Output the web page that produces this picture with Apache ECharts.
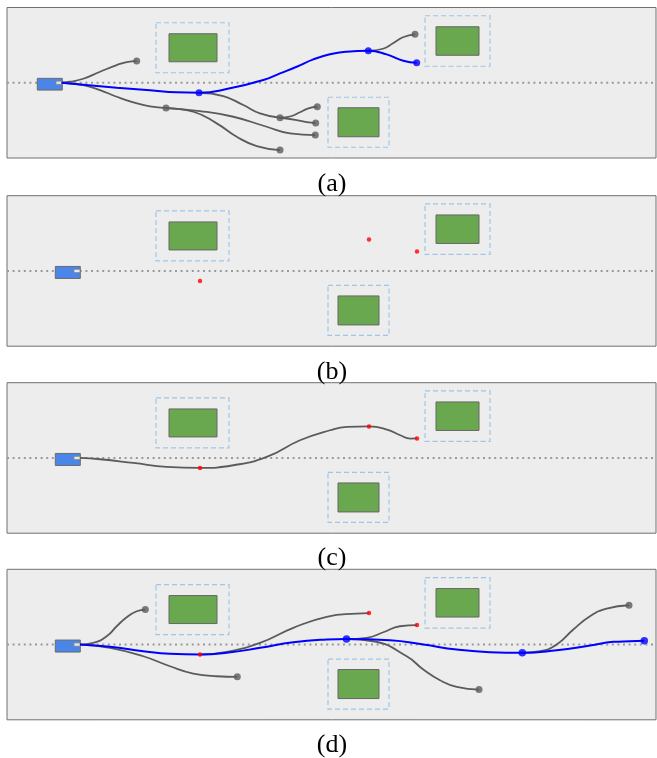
<!DOCTYPE html>
<html>
<head>
<meta charset="utf-8">
<script src="https://cdn.jsdelivr.net/npm/echarts@6/dist/echarts.min.js"></script>
<style>html,body{margin:0;padding:0;background:#fff;}#c{width:657px;height:758px;}</style>
</head>
<body>
<div id="c"></div>
<script>
// ---- data (x along road, y lateral; centre line at y=0) ----
const panelLabels = ['(a)', '(b)', '(c)', '(d)'];
const laneLine = [[0, 0], [649, 0]];
const obstacleZones = [[149, 10, 222, 60], [418, 16.5, 483, 67], [321, -64.5, 382, -14.5]];
const obstacleCars = [[162, 21, 210, 49], [429, 27.5, 472, 56], [331, -54, 372, -25]];
const egoA = [30.3, -7.3, 55.3, 4.4];
const egoMarkA = [49, -1.6, 54.7, 1.6];
const egoBCD = [48.3, -7.5, 73.3, 4.5];
const egoMarkBCD = [67, -1.6, 73, 1.6];

// panel (a)
const a_blue = [[54.7,0],[76.3,-2],[109.7,-5],[143,-7.6],[169.7,-9.6],[192,-10],[223,-5.6],[256.3,2.7],[273,9.4],[289.7,16],[306.3,23.4],[323,28.4],[339.7,31],[361.3,32],[379.7,28.4],[396.3,22],[409.7,20]];
const a_gray1 = [[54.7,0],[63,1],[76.3,4],[93,11],[109.7,17.7],[119.7,20.7],[129.7,21.7]];
const a_gray2 = [[54.7,0],[76.3,-2.3],[93,-7.3],[109.7,-14],[126.3,-19.6],[143,-23.6],[159,-25.3]];
const a_gray3 = [[192,-10],[216.3,-13.3],[236.3,-22.3],[253,-30.6],[273,-35]];
const a_gray4 = [[273,-35],[284,-33.5],[293,-29.5],[301.3,-25.6],[310.3,-24]];
const a_gray5 = [[273,-35],[289.7,-37.3],[299.7,-39.3],[308.7,-40.3]];
const a_gray6 = [[159,-25.3],[193,-28.3],[226.3,-34],[259.7,-44],[283,-50.6],[308.3,-52.3]];
const a_gray7 = [[159,-25.3],[186.3,-29],[209.7,-40.6],[229.7,-54],[249.7,-63.3],[273,-67.3]];
const a_gray8 = [[361.3,32],[376,34],[386,39.5],[396,45.5],[408,48.4]];
const a_grayDots = [[129.7,21.7],[159,-25.3],[273,-35],[310.3,-24],[308.7,-40.3],[308.3,-52.3],[273,-67.3],[408,48.4]];
const a_blueDots = [[192,-10],[361.3,32],[409.7,20]];

// panels (b)(c)(d): waypoints
const waypoints = [[193,-10],[362,31.5],[410,19.5]];

// panel (c)
const c_gray = [[73,0],[93,-1.3],[126.3,-5],[159.7,-9],[193,-10],[226.3,-7.3],[259.7,1],[293,17.7],[323,27.7],[340,31],[362,31.5],[380,28.4],[393.3,22.7],[403.3,19.4],[410,19.5]];

// panel (d)
const d_blue = [[73,0],[103,-2.3],[136.3,-6.7],[163,-9.3],[193,-10],[219.7,-8.3],[253,-3.3],[286.3,2.3],[319.7,5],[339.5,5.5],[383,4.3],[416.3,0],[449.7,-5],[483,-7.7],[515.3,-8.3],[549.7,-5.7],[583,-1],[606.3,2.7],[623,3.3],[637.3,3.7]];
const d_gray1 = [[73,0],[86.3,1.7],[99.7,8.3],[109.7,18.3],[119.7,27.3],[129.7,33.3],[138.3,35]];
const d_gray2 = [[73,0],[103,-3.3],[136.3,-11.7],[163,-21.7],[186.3,-29],[209.7,-31.7],[230.3,-32.3]];
const d_gray3 = [[193,-10],[219.7,-7.3],[253,1.7],[286.3,16.7],[319.7,27.7],[349.7,31],[362,31.5]];
const d_gray4 = [[339.5,5.5],[359.7,6.7],[376.3,12.3],[393,18.3],[410,19.5]];
const d_gray5 = [[339.5,5.5],[366.3,3.3],[399.7,-11.7],[416.3,-25],[433,-35.7],[449.7,-42.3],[472,-45]];
const d_gray6 = [[515.3,-8.3],[533,-6.7],[549.7,0],[566.3,15],[583,28.3],[599.7,36],[622,39.3]];
const d_grayDots = [[138.3,35],[230.3,-32.3],[472,-45],[622,39.3]];
const d_blueDots = [[339.5,5.5],[515.3,-8.3],[637.3,3.7]];

// ---- layout / style ----
const panelTops = [7.5, 195.7, 382.7, 569.3];
const panelH = 150.5;
const labelY = [184, 372, 558.5, 745.5];
const GRAY = '#5b5b5b', BLUE = '#0000ff', RED = '#ff0000';

const grids = [], xAxes = [], yAxes = [], series = [];
panelTops.forEach((t, i) => {
  grids.push({left: 7, width: 649, top: t, height: panelH, show: true,
    backgroundColor: '#ededed', borderColor: '#707070', borderWidth: 1});
  xAxes.push({type: 'value', gridIndex: i, min: 0, max: 649, show: false});
  yAxes.push({type: 'value', gridIndex: i, min: -75.25, max: 75.25, show: false});
});

function rectSeries(i, data, style, z) {
  return {type: 'custom', xAxisIndex: i, yAxisIndex: i, z: z, silent: true,
    encode: {x: [0, 2], y: [1, 3]},
    data: data,
    renderItem: function (params, api) {
      const p1 = api.coord([api.value(0), api.value(3)]);
      const p2 = api.coord([api.value(2), api.value(1)]);
      return {type: 'rect', shape: {x: p1[0], y: p1[1], width: p2[0] - p1[0], height: p2[1] - p1[1]},
        style: Object.assign({}, style)};
    }};
}
function lineSeries(i, data, color, width, z) {
  return {type: 'line', xAxisIndex: i, yAxisIndex: i, data: data, smooth: 0.5,
    symbol: 'none', silent: true, z: z, lineStyle: {color: color, width: width}};
}
function dotSeries(i, data, color, size, z) {
  return {type: 'scatter', xAxisIndex: i, yAxisIndex: i, data: data, symbol: 'circle',
    symbolSize: size, silent: true, z: z, itemStyle: {color: color}};
}

for (let i = 0; i < 4; i++) {
  series.push({type: 'line', xAxisIndex: i, yAxisIndex: i, data: laneLine, symbol: 'none', silent: true, z: 1,
    lineStyle: {color: '#9a9a9a', width: 2, type: [2, 3.6]}});
  series.push(rectSeries(i, obstacleZones, {fill: 'none', stroke: '#9fc5e8', lineWidth: 1.2, lineDash: [5, 3]}, 2));
  series.push(rectSeries(i, obstacleCars, {fill: '#6aa84f', stroke: '#666666', lineWidth: 1}, 2));
  const ego = i === 0 ? egoA : egoBCD;
  const mark = i === 0 ? egoMarkA : egoMarkBCD;
  series.push(rectSeries(i, [ego], {fill: '#4a86e8', stroke: '#6b6b6b', lineWidth: 1}, 3));
  series.push(rectSeries(i, [mark], {fill: '#e8e8e8', stroke: '#888888', lineWidth: 0.8}, 4));
}

// panel (a)
[a_gray1, a_gray2, a_gray3, a_gray4, a_gray5, a_gray6, a_gray7, a_gray8].forEach(d => series.push(lineSeries(0, d, GRAY, 1.8, 5)));
series.push(lineSeries(0, a_blue, BLUE, 2, 6));
series.push(dotSeries(0, a_grayDots, GRAY, 7, 7));
series.push(dotSeries(0, a_blueDots, BLUE, 7, 7));
// panel (b)
series.push(dotSeries(1, waypoints, RED, 4.5, 8));
// panel (c)
series.push(lineSeries(2, c_gray, GRAY, 1.8, 5));
series.push(dotSeries(2, waypoints, RED, 4.5, 8));
// panel (d)
[d_gray1, d_gray2, d_gray3, d_gray4, d_gray5, d_gray6].forEach(d => series.push(lineSeries(3, d, GRAY, 1.8, 5)));
series.push(lineSeries(3, d_blue, BLUE, 2, 6));
series.push(dotSeries(3, d_grayDots, GRAY, 7, 7));
series.push(dotSeries(3, d_blueDots, BLUE, 7.5, 7));
series.push(dotSeries(3, waypoints, RED, 4.5, 8));

const chart = echarts.init(document.getElementById('c'), null, {renderer: 'canvas'});
chart.setOption({
  animation: false,
  grid: grids, xAxis: xAxes, yAxis: yAxes, series: series,
  graphic: panelLabels.map((s, i) => ({type: 'text', x: 332, y: labelY[i], silent: true,
    style: {text: s, font: '26px "Liberation Serif", "Times New Roman", serif', fill: '#000',
      textAlign: 'center', textVerticalAlign: 'middle'}}))
});
</script>
</body>
</html>
